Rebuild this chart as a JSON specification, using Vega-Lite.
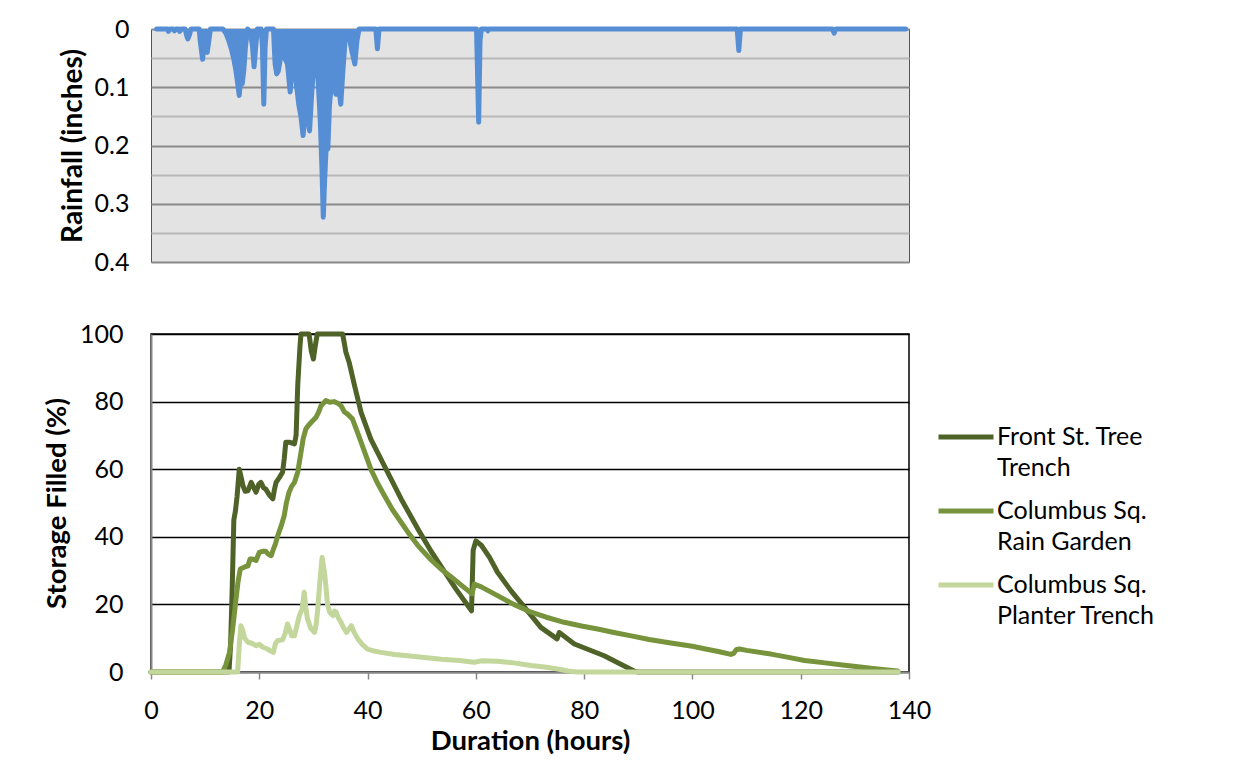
{
  "$schema": "https://vega.github.io/schema/vega-lite/v6.json",
  "padding": {"left": 42, "top": 16, "right": 5, "bottom": 5},
  "spacing": 45,
  "background": "white",
  "config": {
    "font": "Lato",
    "axis": {"labelFont": "Lato", "titleFont": "Lato", "labelColor": "#000", "titleColor": "#000"},
    "legend": {"labelFont": "Lato"}
  },
  "vconcat": [
    {
      "width": 758,
      "height": 233,
      "view": {"fill": "#e3e3e3", "stroke": "#555", "strokeWidth": 1},
      "data": {"values": [
        {"t": 0.3, "r": 0}, {"t": 2.3, "r": 0}, {"t": 2.5, "r": 0.004}, {"t": 2.8, "r": 0},
        {"t": 3.4, "r": 0}, {"t": 3.6, "r": 0.003}, {"t": 3.9, "r": 0},
        {"t": 4.4, "r": 0}, {"t": 4.6, "r": 0.004}, {"t": 4.9, "r": 0},
        {"t": 5.6, "r": 0}, {"t": 5.9, "r": 0.012}, {"t": 6.1, "r": 0.017}, {"t": 6.4, "r": 0.01}, {"t": 6.7, "r": 0},
        {"t": 8.2, "r": 0}, {"t": 8.4, "r": 0.02}, {"t": 8.6, "r": 0.035}, {"t": 8.85, "r": 0.052}, {"t": 9.1, "r": 0.025},
        {"t": 9.4, "r": 0.035}, {"t": 9.7, "r": 0.04}, {"t": 10.0, "r": 0.02}, {"t": 10.3, "r": 0},
        {"t": 12.6, "r": 0}, {"t": 13.2, "r": 0.008}, {"t": 13.7, "r": 0.02}, {"t": 14.2, "r": 0.035}, {"t": 14.6, "r": 0.05},
        {"t": 15.0, "r": 0.07}, {"t": 15.3, "r": 0.09}, {"t": 15.65, "r": 0.114}, {"t": 15.9, "r": 0.085}, {"t": 16.2, "r": 0.094},
        {"t": 16.5, "r": 0.07}, {"t": 16.8, "r": 0.03}, {"t": 17.2, "r": 0},
        {"t": 17.8, "r": 0.01}, {"t": 18.1, "r": 0.03}, {"t": 18.4, "r": 0.065}, {"t": 18.7, "r": 0.03}, {"t": 19.0, "r": 0},
        {"t": 19.7, "r": 0}, {"t": 19.95, "r": 0.03}, {"t": 20.2, "r": 0.129}, {"t": 20.45, "r": 0.03}, {"t": 20.7, "r": 0},
        {"t": 22.0, "r": 0}, {"t": 22.3, "r": 0.06}, {"t": 22.6, "r": 0.077}, {"t": 22.9, "r": 0.072}, {"t": 23.3, "r": 0.05},
        {"t": 23.7, "r": 0.025}, {"t": 24.1, "r": 0.05}, {"t": 24.6, "r": 0.06}, {"t": 25.1, "r": 0.108}, {"t": 25.5, "r": 0.06},
        {"t": 25.8, "r": 0.025}, {"t": 26.2, "r": 0.09}, {"t": 26.7, "r": 0.13}, {"t": 27.1, "r": 0.15}, {"t": 27.5, "r": 0.183},
        {"t": 27.9, "r": 0.14}, {"t": 28.3, "r": 0.15}, {"t": 28.7, "r": 0.175}, {"t": 29.1, "r": 0.11}, {"t": 29.5, "r": 0.06},
        {"t": 29.9, "r": 0.03}, {"t": 30.3, "r": 0.09}, {"t": 30.7, "r": 0.16}, {"t": 31.0, "r": 0.24}, {"t": 31.25, "r": 0.323},
        {"t": 31.5, "r": 0.26}, {"t": 31.8, "r": 0.2}, {"t": 32.1, "r": 0.206}, {"t": 32.4, "r": 0.13}, {"t": 32.8, "r": 0.09},
        {"t": 33.2, "r": 0.1}, {"t": 33.6, "r": 0.112}, {"t": 34.0, "r": 0.09}, {"t": 34.5, "r": 0.129}, {"t": 34.9, "r": 0.07},
        {"t": 35.3, "r": 0.02}, {"t": 35.7, "r": 0.01}, {"t": 36.2, "r": 0.02}, {"t": 36.6, "r": 0.04}, {"t": 37.1, "r": 0.06},
        {"t": 37.5, "r": 0.02}, {"t": 37.9, "r": 0},
        {"t": 41.0, "r": 0}, {"t": 41.3, "r": 0.034}, {"t": 41.6, "r": 0},
        {"t": 59.7, "r": 0}, {"t": 59.9, "r": 0.08}, {"t": 60.1, "r": 0.16}, {"t": 60.35, "r": 0.02}, {"t": 60.6, "r": 0},
        {"t": 61.6, "r": 0}, {"t": 61.8, "r": 0.003}, {"t": 62.0, "r": 0},
        {"t": 108.1, "r": 0}, {"t": 108.4, "r": 0.037}, {"t": 108.7, "r": 0},
        {"t": 125.8, "r": 0}, {"t": 126.1, "r": 0.007}, {"t": 126.4, "r": 0},
        {"t": 139.4, "r": 0}
      ]},
      "encoding": {
        "x": {"field": "t", "type": "quantitative", "scale": {"domain": [-0.74, 140], "nice": false, "zero": false}, "axis": null},
        "y": {"field": "r", "type": "quantitative",
          "scale": {"domain": [0, 0.4], "reverse": true, "nice": false},
          "axis": {
            "title": "Rainfall (inches)", "titleFontSize": 28, "titleFontWeight": "bold", "titlePadding": 7,
            "values": [0, 0.05, 0.1, 0.15, 0.2, 0.25, 0.3, 0.35, 0.4],
            "labelExpr": "round(datum.value*20) % 2 == 0 ? format(datum.value, '.1~f') : ''",
            "labelFontSize": 25, "labelPadding": 22, "ticks": false, "domain": false,
            "labelOverlap": false, "labelFlush": false,
            "grid": true,
            "gridColor": {"condition": {"test": "round(datum.value*20) % 2 == 0", "value": "#8a8a8a"}, "value": "#b8b8b8"},
            "gridWidth": 2
          }
        }
      },
      "layer": [
        {"mark": {"type": "area", "color": "#558ed5", "interpolate": "linear"}},
        {"mark": {"type": "line", "color": "#558ed5", "strokeWidth": 5, "strokeCap": "round", "strokeJoin": "round"}}
      ]
    },
    {
      "width": 758,
      "height": 338,
      "view": {"stroke": "#000", "strokeWidth": 1.5},
      "data": {"values": [
        {"s": "Front St. Tree Trench", "t": 0, "v": 0}, {"s": "Front St. Tree Trench", "t": 14.4, "v": 0},
        {"s": "Front St. Tree Trench", "t": 14.7, "v": 8}, {"s": "Front St. Tree Trench", "t": 15.0, "v": 25},
        {"s": "Front St. Tree Trench", "t": 15.3, "v": 45}, {"s": "Front St. Tree Trench", "t": 15.6, "v": 47.7},
        {"s": "Front St. Tree Trench", "t": 15.9, "v": 52}, {"s": "Front St. Tree Trench", "t": 16.3, "v": 60},
        {"s": "Front St. Tree Trench", "t": 16.6, "v": 58}, {"s": "Front St. Tree Trench", "t": 17.0, "v": 55},
        {"s": "Front St. Tree Trench", "t": 17.4, "v": 53.5}, {"s": "Front St. Tree Trench", "t": 17.9, "v": 53.6},
        {"s": "Front St. Tree Trench", "t": 18.5, "v": 56.1}, {"s": "Front St. Tree Trench", "t": 19.0, "v": 54.5},
        {"s": "Front St. Tree Trench", "t": 19.4, "v": 53.2}, {"s": "Front St. Tree Trench", "t": 19.9, "v": 55.5},
        {"s": "Front St. Tree Trench", "t": 20.3, "v": 56.1}, {"s": "Front St. Tree Trench", "t": 20.8, "v": 54.5},
        {"s": "Front St. Tree Trench", "t": 21.2, "v": 54.1}, {"s": "Front St. Tree Trench", "t": 21.8, "v": 52.5},
        {"s": "Front St. Tree Trench", "t": 22.5, "v": 51.2}, {"s": "Front St. Tree Trench", "t": 22.8, "v": 54},
        {"s": "Front St. Tree Trench", "t": 23.1, "v": 56.1}, {"s": "Front St. Tree Trench", "t": 23.7, "v": 57.5},
        {"s": "Front St. Tree Trench", "t": 24.3, "v": 59.1}, {"s": "Front St. Tree Trench", "t": 24.6, "v": 63},
        {"s": "Front St. Tree Trench", "t": 24.9, "v": 68}, {"s": "Front St. Tree Trench", "t": 25.5, "v": 68},
        {"s": "Front St. Tree Trench", "t": 26.5, "v": 67.5}, {"s": "Front St. Tree Trench", "t": 26.8, "v": 70},
        {"s": "Front St. Tree Trench", "t": 27.1, "v": 84.7}, {"s": "Front St. Tree Trench", "t": 27.5, "v": 96},
        {"s": "Front St. Tree Trench", "t": 27.7, "v": 100}, {"s": "Front St. Tree Trench", "t": 29.2, "v": 100},
        {"s": "Front St. Tree Trench", "t": 29.6, "v": 95}, {"s": "Front St. Tree Trench", "t": 30.0, "v": 92.6},
        {"s": "Front St. Tree Trench", "t": 30.3, "v": 96}, {"s": "Front St. Tree Trench", "t": 30.7, "v": 100},
        {"s": "Front St. Tree Trench", "t": 35.4, "v": 100}, {"s": "Front St. Tree Trench", "t": 36.0, "v": 94.6},
        {"s": "Front St. Tree Trench", "t": 36.6, "v": 91.6}, {"s": "Front St. Tree Trench", "t": 37.6, "v": 84.7},
        {"s": "Front St. Tree Trench", "t": 38.8, "v": 76.8}, {"s": "Front St. Tree Trench", "t": 40.6, "v": 68.9},
        {"s": "Front St. Tree Trench", "t": 43.1, "v": 61}, {"s": "Front St. Tree Trench", "t": 46.2, "v": 51.2},
        {"s": "Front St. Tree Trench", "t": 49.3, "v": 42.3}, {"s": "Front St. Tree Trench", "t": 51.7, "v": 35.8},
        {"s": "Front St. Tree Trench", "t": 53.6, "v": 31.2}, {"s": "Front St. Tree Trench", "t": 56.3, "v": 24.6},
        {"s": "Front St. Tree Trench", "t": 59.2, "v": 18.1}, {"s": "Front St. Tree Trench", "t": 59.5, "v": 36},
        {"s": "Front St. Tree Trench", "t": 60.0, "v": 38.8}, {"s": "Front St. Tree Trench", "t": 61.0, "v": 37.5},
        {"s": "Front St. Tree Trench", "t": 62.5, "v": 34}, {"s": "Front St. Tree Trench", "t": 64.0, "v": 29.5},
        {"s": "Front St. Tree Trench", "t": 66.5, "v": 24}, {"s": "Front St. Tree Trench", "t": 69.0, "v": 19.1},
        {"s": "Front St. Tree Trench", "t": 72.0, "v": 13.2}, {"s": "Front St. Tree Trench", "t": 75.0, "v": 9.8},
        {"s": "Front St. Tree Trench", "t": 75.4, "v": 11.7}, {"s": "Front St. Tree Trench", "t": 78.2, "v": 8.3},
        {"s": "Front St. Tree Trench", "t": 81.0, "v": 6.5}, {"s": "Front St. Tree Trench", "t": 83.7, "v": 4.8},
        {"s": "Front St. Tree Trench", "t": 86.5, "v": 2.5}, {"s": "Front St. Tree Trench", "t": 89.3, "v": 0.2},
        {"s": "Front St. Tree Trench", "t": 90.0, "v": 0}, {"s": "Front St. Tree Trench", "t": 138.0, "v": 0},

        {"s": "Columbus Sq. Rain Garden", "t": 0, "v": 0}, {"s": "Columbus Sq. Rain Garden", "t": 13.2, "v": 0},
        {"s": "Columbus Sq. Rain Garden", "t": 13.8, "v": 2}, {"s": "Columbus Sq. Rain Garden", "t": 14.5, "v": 5.8},
        {"s": "Columbus Sq. Rain Garden", "t": 15.1, "v": 13}, {"s": "Columbus Sq. Rain Garden", "t": 15.7, "v": 21.6},
        {"s": "Columbus Sq. Rain Garden", "t": 16.1, "v": 27}, {"s": "Columbus Sq. Rain Garden", "t": 16.5, "v": 30.5},
        {"s": "Columbus Sq. Rain Garden", "t": 17.2, "v": 31}, {"s": "Columbus Sq. Rain Garden", "t": 17.9, "v": 31.4},
        {"s": "Columbus Sq. Rain Garden", "t": 18.3, "v": 33.4}, {"s": "Columbus Sq. Rain Garden", "t": 18.8, "v": 33.4},
        {"s": "Columbus Sq. Rain Garden", "t": 19.4, "v": 33}, {"s": "Columbus Sq. Rain Garden", "t": 20.0, "v": 35.4},
        {"s": "Columbus Sq. Rain Garden", "t": 20.6, "v": 35.7}, {"s": "Columbus Sq. Rain Garden", "t": 21.2, "v": 35.7},
        {"s": "Columbus Sq. Rain Garden", "t": 21.7, "v": 34.8}, {"s": "Columbus Sq. Rain Garden", "t": 22.2, "v": 34.4},
        {"s": "Columbus Sq. Rain Garden", "t": 22.6, "v": 36.3}, {"s": "Columbus Sq. Rain Garden", "t": 23.0, "v": 38},
        {"s": "Columbus Sq. Rain Garden", "t": 23.4, "v": 40.3}, {"s": "Columbus Sq. Rain Garden", "t": 24.0, "v": 43},
        {"s": "Columbus Sq. Rain Garden", "t": 24.6, "v": 46.2}, {"s": "Columbus Sq. Rain Garden", "t": 25.0, "v": 50},
        {"s": "Columbus Sq. Rain Garden", "t": 25.5, "v": 53.2}, {"s": "Columbus Sq. Rain Garden", "t": 26.0, "v": 55},
        {"s": "Columbus Sq. Rain Garden", "t": 26.5, "v": 56.1}, {"s": "Columbus Sq. Rain Garden", "t": 27.1, "v": 59.1},
        {"s": "Columbus Sq. Rain Garden", "t": 27.7, "v": 65}, {"s": "Columbus Sq. Rain Garden", "t": 28.1, "v": 69},
        {"s": "Columbus Sq. Rain Garden", "t": 28.6, "v": 71.9}, {"s": "Columbus Sq. Rain Garden", "t": 29.1, "v": 73},
        {"s": "Columbus Sq. Rain Garden", "t": 29.6, "v": 73.9}, {"s": "Columbus Sq. Rain Garden", "t": 30.5, "v": 75.4},
        {"s": "Columbus Sq. Rain Garden", "t": 31.0, "v": 77}, {"s": "Columbus Sq. Rain Garden", "t": 31.4, "v": 78.8},
        {"s": "Columbus Sq. Rain Garden", "t": 32.3, "v": 80.3}, {"s": "Columbus Sq. Rain Garden", "t": 33.0, "v": 79.8},
        {"s": "Columbus Sq. Rain Garden", "t": 33.8, "v": 80}, {"s": "Columbus Sq. Rain Garden", "t": 34.5, "v": 79.5},
        {"s": "Columbus Sq. Rain Garden", "t": 35.1, "v": 78.8}, {"s": "Columbus Sq. Rain Garden", "t": 35.7, "v": 77},
        {"s": "Columbus Sq. Rain Garden", "t": 36.3, "v": 76.3}, {"s": "Columbus Sq. Rain Garden", "t": 37.2, "v": 74.9},
        {"s": "Columbus Sq. Rain Garden", "t": 38.0, "v": 71.5}, {"s": "Columbus Sq. Rain Garden", "t": 38.8, "v": 68},
        {"s": "Columbus Sq. Rain Garden", "t": 39.7, "v": 64}, {"s": "Columbus Sq. Rain Garden", "t": 40.6, "v": 60},
        {"s": "Columbus Sq. Rain Garden", "t": 41.8, "v": 56}, {"s": "Columbus Sq. Rain Garden", "t": 43.1, "v": 52.2},
        {"s": "Columbus Sq. Rain Garden", "t": 44.6, "v": 48}, {"s": "Columbus Sq. Rain Garden", "t": 46.2, "v": 44.3},
        {"s": "Columbus Sq. Rain Garden", "t": 47.7, "v": 40.8}, {"s": "Columbus Sq. Rain Garden", "t": 49.3, "v": 37.4},
        {"s": "Columbus Sq. Rain Garden", "t": 51.7, "v": 33.2}, {"s": "Columbus Sq. Rain Garden", "t": 53.6, "v": 30.4},
        {"s": "Columbus Sq. Rain Garden", "t": 55.4, "v": 28.2}, {"s": "Columbus Sq. Rain Garden", "t": 57.3, "v": 25.7},
        {"s": "Columbus Sq. Rain Garden", "t": 59.3, "v": 23.1}, {"s": "Columbus Sq. Rain Garden", "t": 59.7, "v": 26},
        {"s": "Columbus Sq. Rain Garden", "t": 61.0, "v": 25.2}, {"s": "Columbus Sq. Rain Garden", "t": 64.0, "v": 22.6},
        {"s": "Columbus Sq. Rain Garden", "t": 67.0, "v": 20}, {"s": "Columbus Sq. Rain Garden", "t": 70.2, "v": 17.7},
        {"s": "Columbus Sq. Rain Garden", "t": 73.0, "v": 16.2}, {"s": "Columbus Sq. Rain Garden", "t": 76.3, "v": 14.7},
        {"s": "Columbus Sq. Rain Garden", "t": 79.5, "v": 13.6}, {"s": "Columbus Sq. Rain Garden", "t": 82.5, "v": 12.7},
        {"s": "Columbus Sq. Rain Garden", "t": 85.5, "v": 11.7}, {"s": "Columbus Sq. Rain Garden", "t": 88.7, "v": 10.7},
        {"s": "Columbus Sq. Rain Garden", "t": 92.0, "v": 9.6}, {"s": "Columbus Sq. Rain Garden", "t": 96.0, "v": 8.6},
        {"s": "Columbus Sq. Rain Garden", "t": 100.0, "v": 7.6}, {"s": "Columbus Sq. Rain Garden", "t": 102.2, "v": 6.9},
        {"s": "Columbus Sq. Rain Garden", "t": 105.0, "v": 6.0}, {"s": "Columbus Sq. Rain Garden", "t": 107.1, "v": 5.2},
        {"s": "Columbus Sq. Rain Garden", "t": 107.6, "v": 5.5}, {"s": "Columbus Sq. Rain Garden", "t": 108.1, "v": 6.6},
        {"s": "Columbus Sq. Rain Garden", "t": 108.7, "v": 6.8}, {"s": "Columbus Sq. Rain Garden", "t": 110.0, "v": 6.4},
        {"s": "Columbus Sq. Rain Garden", "t": 114.5, "v": 5.3}, {"s": "Columbus Sq. Rain Garden", "t": 117.5, "v": 4.4},
        {"s": "Columbus Sq. Rain Garden", "t": 120.7, "v": 3.4}, {"s": "Columbus Sq. Rain Garden", "t": 124.5, "v": 2.7},
        {"s": "Columbus Sq. Rain Garden", "t": 128.1, "v": 2.0}, {"s": "Columbus Sq. Rain Garden", "t": 131.0, "v": 1.5},
        {"s": "Columbus Sq. Rain Garden", "t": 133.0, "v": 1.1}, {"s": "Columbus Sq. Rain Garden", "t": 135.5, "v": 0.7},
        {"s": "Columbus Sq. Rain Garden", "t": 137.9, "v": 0.3},

        {"s": "Columbus Sq. Planter Trench", "t": 0, "v": 0}, {"s": "Columbus Sq. Planter Trench", "t": 16.0, "v": 0},
        {"s": "Columbus Sq. Planter Trench", "t": 16.3, "v": 8}, {"s": "Columbus Sq. Planter Trench", "t": 16.6, "v": 13.7},
        {"s": "Columbus Sq. Planter Trench", "t": 16.9, "v": 12.5}, {"s": "Columbus Sq. Planter Trench", "t": 17.3, "v": 10},
        {"s": "Columbus Sq. Planter Trench", "t": 17.9, "v": 8.8}, {"s": "Columbus Sq. Planter Trench", "t": 18.6, "v": 8.5},
        {"s": "Columbus Sq. Planter Trench", "t": 19.4, "v": 7.8}, {"s": "Columbus Sq. Planter Trench", "t": 20.0, "v": 8.2},
        {"s": "Columbus Sq. Planter Trench", "t": 20.6, "v": 7.4}, {"s": "Columbus Sq. Planter Trench", "t": 21.5, "v": 6.8},
        {"s": "Columbus Sq. Planter Trench", "t": 22.0, "v": 6.3}, {"s": "Columbus Sq. Planter Trench", "t": 22.6, "v": 5.8},
        {"s": "Columbus Sq. Planter Trench", "t": 23.0, "v": 8.5}, {"s": "Columbus Sq. Planter Trench", "t": 23.4, "v": 9.3},
        {"s": "Columbus Sq. Planter Trench", "t": 24.3, "v": 9.5}, {"s": "Columbus Sq. Planter Trench", "t": 24.8, "v": 11.5},
        {"s": "Columbus Sq. Planter Trench", "t": 25.2, "v": 14.2}, {"s": "Columbus Sq. Planter Trench", "t": 25.6, "v": 12.5},
        {"s": "Columbus Sq. Planter Trench", "t": 26.0, "v": 10.7}, {"s": "Columbus Sq. Planter Trench", "t": 26.5, "v": 10.7},
        {"s": "Columbus Sq. Planter Trench", "t": 27.0, "v": 14}, {"s": "Columbus Sq. Planter Trench", "t": 27.4, "v": 16.7},
        {"s": "Columbus Sq. Planter Trench", "t": 27.9, "v": 18.5}, {"s": "Columbus Sq. Planter Trench", "t": 28.3, "v": 23.6},
        {"s": "Columbus Sq. Planter Trench", "t": 28.6, "v": 19}, {"s": "Columbus Sq. Planter Trench", "t": 28.9, "v": 15.7},
        {"s": "Columbus Sq. Planter Trench", "t": 29.5, "v": 13}, {"s": "Columbus Sq. Planter Trench", "t": 30.2, "v": 11.7},
        {"s": "Columbus Sq. Planter Trench", "t": 30.5, "v": 14}, {"s": "Columbus Sq. Planter Trench", "t": 30.8, "v": 18.6},
        {"s": "Columbus Sq. Planter Trench", "t": 31.2, "v": 27}, {"s": "Columbus Sq. Planter Trench", "t": 31.6, "v": 33.9},
        {"s": "Columbus Sq. Planter Trench", "t": 32.0, "v": 30}, {"s": "Columbus Sq. Planter Trench", "t": 32.3, "v": 25.5},
        {"s": "Columbus Sq. Planter Trench", "t": 32.6, "v": 20}, {"s": "Columbus Sq. Planter Trench", "t": 33.0, "v": 17.7},
        {"s": "Columbus Sq. Planter Trench", "t": 33.6, "v": 16.7}, {"s": "Columbus Sq. Planter Trench", "t": 33.9, "v": 18},
        {"s": "Columbus Sq. Planter Trench", "t": 34.2, "v": 17.7}, {"s": "Columbus Sq. Planter Trench", "t": 34.6, "v": 16},
        {"s": "Columbus Sq. Planter Trench", "t": 35.1, "v": 14.7}, {"s": "Columbus Sq. Planter Trench", "t": 35.6, "v": 13},
        {"s": "Columbus Sq. Planter Trench", "t": 36.1, "v": 11.7}, {"s": "Columbus Sq. Planter Trench", "t": 36.6, "v": 12.8},
        {"s": "Columbus Sq. Planter Trench", "t": 37.0, "v": 13.7}, {"s": "Columbus Sq. Planter Trench", "t": 37.6, "v": 11.5},
        {"s": "Columbus Sq. Planter Trench", "t": 38.2, "v": 9.8}, {"s": "Columbus Sq. Planter Trench", "t": 39.0, "v": 8.2},
        {"s": "Columbus Sq. Planter Trench", "t": 40.0, "v": 6.8}, {"s": "Columbus Sq. Planter Trench", "t": 41.2, "v": 6.2},
        {"s": "Columbus Sq. Planter Trench", "t": 42.5, "v": 5.8}, {"s": "Columbus Sq. Planter Trench", "t": 45.0, "v": 5.2},
        {"s": "Columbus Sq. Planter Trench", "t": 47.4, "v": 4.8}, {"s": "Columbus Sq. Planter Trench", "t": 50.5, "v": 4.3},
        {"s": "Columbus Sq. Planter Trench", "t": 53.6, "v": 3.8}, {"s": "Columbus Sq. Planter Trench", "t": 57.0, "v": 3.4},
        {"s": "Columbus Sq. Planter Trench", "t": 59.7, "v": 2.9}, {"s": "Columbus Sq. Planter Trench", "t": 61.0, "v": 3.3},
        {"s": "Columbus Sq. Planter Trench", "t": 64.0, "v": 3.2}, {"s": "Columbus Sq. Planter Trench", "t": 67.0, "v": 2.7},
        {"s": "Columbus Sq. Planter Trench", "t": 70.2, "v": 1.9}, {"s": "Columbus Sq. Planter Trench", "t": 73.0, "v": 1.4},
        {"s": "Columbus Sq. Planter Trench", "t": 75.1, "v": 0.9}, {"s": "Columbus Sq. Planter Trench", "t": 77.0, "v": 0.3},
        {"s": "Columbus Sq. Planter Trench", "t": 78.8, "v": 0}, {"s": "Columbus Sq. Planter Trench", "t": 138.0, "v": 0}
      ]},
      "mark": {"type": "line", "strokeWidth": 5, "strokeJoin": "round", "strokeCap": "round"},
      "encoding": {
        "x": {"field": "t", "type": "quantitative",
          "scale": {"domain": [0, 140], "nice": false},
          "axis": {
            "title": "Duration (hours)", "titleFontSize": 27.5, "titleFontWeight": "bold", "titlePadding": 4,
            "values": [0, 20, 40, 60, 80, 100, 120, 140],
            "labelFontSize": 25, "labelPadding": 19, "labelFlush": false, "labelOverlap": false,
            "grid": false, "domainColor": "#888", "domainWidth": 2,
            "tickColor": "#888", "tickSize": 7, "tickWidth": 1.5
          }
        },
        "y": {"field": "v", "type": "quantitative",
          "scale": {"domain": [0, 100], "nice": false},
          "axis": {
            "title": "Storage Filled (%)", "titleFontSize": 27.5, "titleFontWeight": "bold", "titlePadding": 8,
            "values": [0, 20, 40, 60, 80, 100],
            "labelFontSize": 25, "labelPadding": 28, "labelFlush": false, "labelOverlap": false, "ticks": false,
            "grid": true, "gridColor": "#000", "gridWidth": 1.5,
            "domainColor": "#888", "domainWidth": 2
          }
        },
        "color": {"field": "s", "type": "nominal",
          "scale": {"domain": ["Front St. Tree Trench", "Columbus Sq. Rain Garden", "Columbus Sq. Planter Trench"],
                    "range": ["#4f6228", "#77933c", "#c3d69b"]},
          "legend": {
            "title": null, "orient": "none", "legendX": 785, "legendY": 378,
            "symbolType": "stroke", "symbolSize": 3025, "symbolStrokeWidth": 5,
            "labelFontSize": 25, "labelOffset": 1, "labelLimit": 400,
            "labelExpr": "datum.label == 'Front St. Tree Trench' ? ['Front St. Tree', 'Trench'] : datum.label == 'Columbus Sq. Rain Garden' ? ['Columbus Sq.', 'Rain Garden'] : ['Columbus Sq.', 'Planter Trench']",
            "labelBaseline": "middle", "rowPadding": -5.5, "padding": 0,
            "encode": {"labels": {"update": {"lineHeight": {"value": 31}}}}
          }
        },
        "order": {"value": 0}
      }
    }
  ]
}
